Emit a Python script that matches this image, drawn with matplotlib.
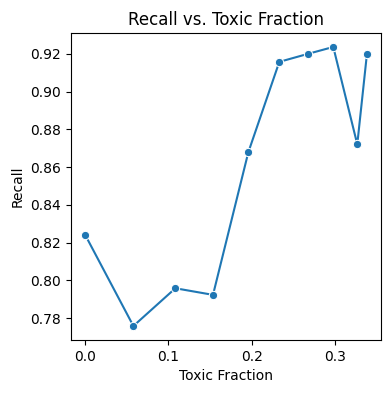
import matplotlib
matplotlib.use("Agg")
import matplotlib.pyplot as plt
import seaborn as sns
import pandas as pd

# values
toxic_fraction = [0.0, 0.058, 0.1084, 0.1536, 0.196, 0.2332, 0.2672, 0.298, 0.3268, 0.3384]
recall = [0.8242, 0.7758, 0.7958, 0.7923, 0.8679, 0.9158, 0.9200, 0.9237, 0.8721, 0.9200]

df = pd.DataFrame({"Toxic Fraction": toxic_fraction, "Recall": recall})

fig = plt.figure(figsize=(3.9, 3.93), dpi=100)
fig.subplots_adjust(left=0.182, right=0.977, top=0.916, bottom=0.135)
ax = fig.add_subplot(111)
sns.lineplot(data=df, x="Toxic Fraction", y="Recall", marker="o", ax=ax)
ax.set_title("Recall vs. Toxic Fraction")
ax.set_xticks([0.0, 0.1, 0.2, 0.3])
ax.set_yticks([0.78, 0.80, 0.82, 0.84, 0.86, 0.88, 0.90, 0.92])

fig.savefig("out.png", dpi=100)
